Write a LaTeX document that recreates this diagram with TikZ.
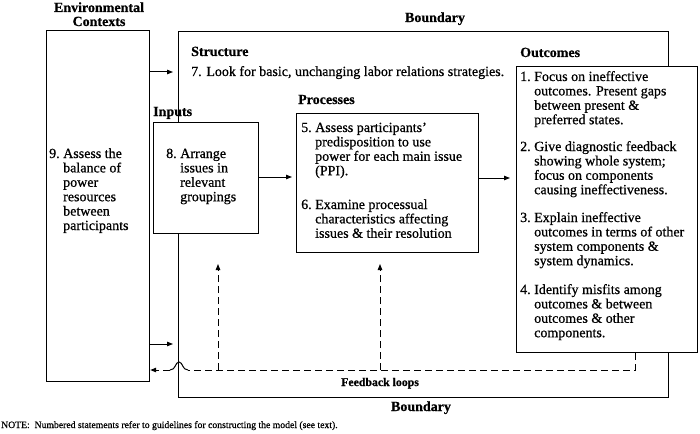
\documentclass[tikz,border=0pt]{standalone}
\usepackage{fontspec}
\setmainfont{Liberation Serif}[FakeBold=0.7]
\usetikzlibrary{arrows.meta}
\begin{document}
\begin{tikzpicture}[x=1pt,y=-1pt,
  box/.style={draw, line width=1.2pt, fill=white, inner sep=0pt, anchor=north west},
  txt/.style={inner sep=0pt, anchor=base west, font=\fontsize{14}{14.4}\selectfont},
  hd/.style={inner sep=0pt, anchor=base west, font=\fontsize{14}{14.4}\selectfont\bfseries},
  hdc/.style={inner sep=0pt, anchor=base, font=\fontsize{14}{14.4}\selectfont\bfseries},
  arr/.style={line width=1pt, -{Triangle[length=6pt,width=4.5pt]}},
  dsh/.style={line width=1pt, dash pattern=on 7pt off 4pt},
  darr/.style={dsh, -{Triangle[length=6pt,width=4.5pt]}}]
\useasboundingbox (0,0) rectangle (700,433);

% boundary box
\node[box, fill=none, line width=1.3pt, minimum width=490pt, minimum height=366pt] (bnd) at (178,31) {};
% environmental contexts box
\node[box, minimum width=103pt, minimum height=351pt] (env) at (46,30) {};
% inputs box
\node[box, minimum width=105pt, minimum height=111pt] (inp) at (153,122) {};
% processes box
\node[box, minimum width=182pt, minimum height=139pt] (proc) at (296,113) {};
% outcomes box
\node[box, minimum width=181pt, minimum height=286pt] (out) at (516,66) {};

% titles
\node[hdc] (envt1) at (99,12) {Environmental};
\node[hdc] (envt2) at (99,26) {Contexts};
\node[hdc] (bndt) at (435,22) {Boundary};
\node[hdc] (bndb) at (421,411) {Boundary};
\node[hd] (strt) at (191,56) {Structure};
\node[txt] (str7) at (191,76) {7. Look for basic, unchanging labor relations strategies.};
\node[hd] (inpt) at (153,116) {Inputs};
\node[hd] (proct) at (298,104) {Processes};
\node[hd] (outt) at (520,57) {Outcomes};
\node[hd, font=\fontsize{11.8}{14}\selectfont\bfseries] (fbt) at (341,386) {Feedback loops};
\node[inner sep=0pt, anchor=base west, font=\fontsize{9.7}{12}\selectfont] (note) at (1,428)
  {NOTE:\ \ Numbered statements refer to guidelines for constructing the model (see text).};

% box texts
\node[txt] (t9) at (49,158) {\begin{tabular}[t]{@{}l@{\ }l@{}}9.&Assess the\\&balance of\\&power\\&resources\\&between\\&participants\end{tabular}};
\node[txt] (t8) at (166,158) {\begin{tabular}[t]{@{}l@{\ }l@{}}8.&Arrange\\&issues in\\&relevant\\&groupings\end{tabular}};
\node[txt] (t5) at (301,132) {\begin{tabular}[t]{@{}l@{\ }l@{}}5.&Assess participants'\\&predisposition to use\\&power for each main issue\\&(PPI).\end{tabular}};
\node[txt] (t6) at (301,209) {\begin{tabular}[t]{@{}l@{\ }l@{}}6.&Examine processual\\&characteristics affecting\\&issues \& their resolution\end{tabular}};
\node[txt] (t1) at (520,81) {\begin{tabular}[t]{@{}l@{\ }l@{}}1.&Focus on ineffective\\&outcomes. Present gaps\\&between present \&\\&preferred states.\end{tabular}};
\node[txt] (t2) at (520,151) {\begin{tabular}[t]{@{}l@{\ }l@{}}2.&Give diagnostic feedback\\&showing whole system;\\&focus on components\\&causing ineffectiveness.\end{tabular}};
\node[txt] (t3) at (520,222) {\begin{tabular}[t]{@{}l@{\ }l@{}}3.&Explain ineffective\\&outcomes in terms of other\\&system components \&\\&system dynamics.\end{tabular}};
\node[txt] (t4) at (520,294) {\begin{tabular}[t]{@{}l@{\ }l@{}}4.&Identify misfits among\\&outcomes \& between\\&outcomes \& other\\&components.\end{tabular}};

% solid arrows
\draw[arr, shorten >=5pt] (env.east |- 0,72) -- (bnd.west |- 0,72);
\draw[arr, shorten >=5pt] (env.east |- 0,344) -- (bnd.west |- 0,344);
\draw[arr, shorten >=4pt] (inp.east |- 0,177) -- (proc.west |- 0,177);
\draw[arr, shorten >=6pt] (proc.east |- 0,178) -- (out.west |- 0,178);

% feedback loops
\coordinate (fb0) at (635,370);
\coordinate (hopR) at (188,370);
\coordinate (hopL) at (170,370);
\draw[dsh] (out.south -| fb0) -- (fb0) -- (hopR);
\draw[line width=1pt] (hopR) .. controls (182,370) and (183,362) .. (179,362) .. controls (175,362) and (176,370) .. (hopL);
\draw[darr] (hopL) -- (env.east |- hopL);
\coordinate (fbA) at (218,370);
\coordinate (fbB) at (380,370);
\draw[darr] (fbA) -- (218,264);
\draw[darr] (fbB) -- (380,264);
\end{tikzpicture}
\end{document}
